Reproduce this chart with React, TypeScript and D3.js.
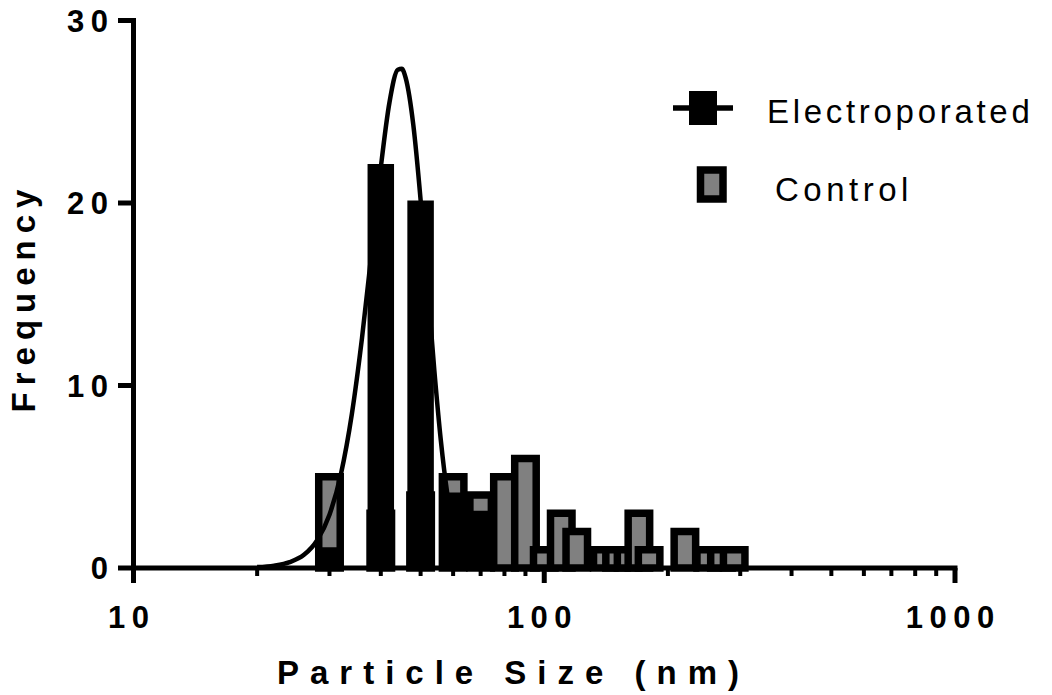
import React from "react";
import * as d3 from "d3";

// Histogram bins (nm, bin centres) and counts per group
const controlSizes = [30, 40, 50, 60, 70, 80, 90, 100, 110, 120, 140, 150, 160, 170, 180, 220, 250, 270, 290];
const controlCounts = [5, 3, 4, 5, 4, 5, 6, 1, 3, 2, 1, 1, 1, 3, 1, 2, 1, 1, 1];
const electroSizes = [30, 40, 50, 60, 70];
const electroCounts = [1, 22, 20, 4, 3];

// Gaussian fit of the electroporated distribution (nm, frequency)
const fitSizes = [20, 22, 24, 26, 28, 30, 32, 34, 36, 38, 40, 42, 44, 45, 46, 48, 50, 52, 54, 56, 58, 60, 62, 64, 66, 68, 70, 75, 80, 100];
const fitFreq = [0.05, 0.13, 0.32, 0.72, 1.52, 2.92, 5.17, 8.42, 12.6, 17.34, 21.94, 25.52, 27.3, 27.35, 26.84, 24.27, 20.17, 15.42, 10.83, 7.0, 4.16, 2.27, 1.14, 0.53, 0.22, 0.09, 0.03, 0.0, 0.0, 0.0];

const yTicks = [0, 10, 20, 30];
const xMajorTicks = [10, 100, 1000];
const xMinorTicks = [20, 30, 40, 50, 60, 70, 80, 90, 200, 300, 400, 500, 600, 700, 800, 900];

const FONT = "'Liberation Sans', Arial, Helvetica, sans-serif";

export default function App() {
  const W = 1052;
  const H = 695;
  const x = d3.scaleLog().domain([10, 1000]).range([133.5, 955]);
  const y = d3.scaleLinear().domain([0, 30]).range([568, 20.5]);

  const barW = 21.5;
  const ctrlStroke = 7.5;
  const elecStroke = 5;
  const grey = "#808080";

  const fitPts: [number, number][] = fitSizes.map((s, i) => [s, fitFreq[i]]);
  const line = d3
    .line<[number, number]>()
    .x((d) => x(d[0]))
    .y((d) => y(d[1]))
    .curve(d3.curveMonotoneX);

  const tickLs = 6.5;
  const tickFs = 31;

  return (
    <svg
      width={W}
      height={H}
      style={{ position: "absolute", left: 0, top: 0, background: "#fff" }}
      fontFamily={FONT}
    >
      <rect x={0} y={0} width={W} height={H} fill="#fff" />

      {/* Control bars */}
      {controlSizes.map((s, i) => {
        const v = controlCounts[i];
        if (v <= 0) return null;
        const cx = x(s);
        return (
          <rect
            key={"c" + s}
            x={cx - barW / 2}
            y={y(v)}
            width={barW}
            height={y(0) - y(v)}
            fill={grey}
            stroke="#000"
            strokeWidth={ctrlStroke}
          />
        );
      })}

      {/* Electroporated bars */}
      {electroSizes.map((s, i) => {
        const v = electroCounts[i];
        if (v <= 0) return null;
        const cx = x(s);
        return (
          <rect
            key={"e" + s}
            x={cx - barW / 2}
            y={y(v)}
            width={barW}
            height={y(0) - y(v)}
            fill="#000"
            stroke="#000"
            strokeWidth={elecStroke}
          />
        );
      })}

      {/* Gaussian fit */}
      <path d={line(fitPts) || ""} fill="none" stroke="#000" strokeWidth={4.5} />

      {/* Y axis */}
      <line x1={x(10)} x2={x(10)} y1={y(30) - 2.5} y2={583} stroke="#000" strokeWidth={5} />
      {yTicks.map((t) => (
        <g key={"yt" + t}>
          <line x1={118} x2={x(10)} y1={y(t)} y2={y(t)} stroke="#000" strokeWidth={5} />
          <text
            x={108 + tickLs}
            y={y(t) + 11}
            textAnchor="end"
            fontSize={tickFs}
            fontWeight="bold"
            letterSpacing={tickLs}
          >
            {t}
          </text>
        </g>
      ))}

      {/* X axis */}
      <line x1={x(10)} x2={x(1000) + 2.5} y1={y(0)} y2={y(0)} stroke="#000" strokeWidth={5} />
      {xMajorTicks.map((t) => (
        <g key={"xt" + t}>
          <line x1={x(t)} x2={x(t)} y1={y(0)} y2={583} stroke="#000" strokeWidth={5} />
          <text
            x={x(t) - 5 + tickLs / 2}
            y={628}
            textAnchor="middle"
            fontSize={tickFs}
            fontWeight="bold"
            letterSpacing={tickLs}
          >
            {t}
          </text>
        </g>
      ))}
      {xMinorTicks.map((t) => (
        <line key={"xm" + t} x1={x(t)} x2={x(t)} y1={y(0)} y2={576} stroke="#000" strokeWidth={4} />
      ))}

      {/* Axis titles */}
      <text
        x={508 + 5.5}
        y={684}
        textAnchor="middle"
        fontSize={33}
        fontWeight="bold"
        letterSpacing={11}
      >
        Particle Size (nm)
      </text>
      <text
        transform={`translate(35, ${294 + 3.5}) rotate(-90)`}
        textAnchor="middle"
        fontSize={33}
        fontWeight="bold"
        letterSpacing={7}
      >
        Frequency
      </text>

      {/* Legend */}
      <line x1={673} x2={733} y1={108} y2={108} stroke="#000" strokeWidth={5.5} />
      <rect x={689} y={91} width={28} height={34} fill="#000" />
      <text x={767} y={123} fontSize={33} letterSpacing={3.7}>
        Electroporated
      </text>
      <rect x={700.5} y={170} width={22.5} height={29} fill={grey} stroke="#000" strokeWidth={7.5} />
      <text x={775} y={201} fontSize={33} letterSpacing={4.5}>
        Control
      </text>
    </svg>
  );
}
